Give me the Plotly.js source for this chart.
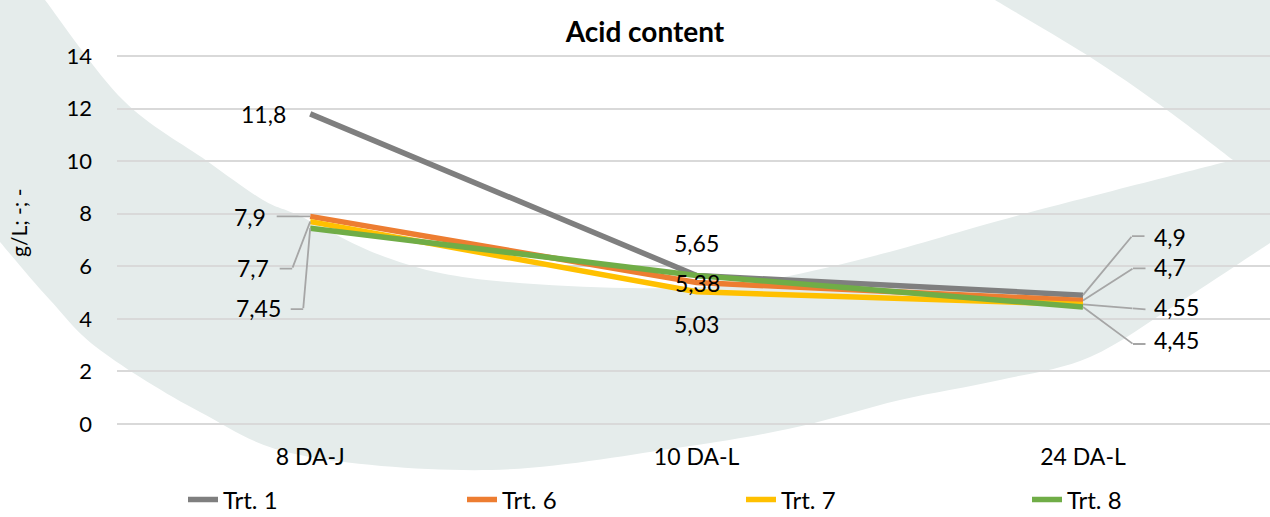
<!DOCTYPE html>
<html>
<head>
<meta charset="utf-8">
<script src="https://cdn.plot.ly/plotly-3.0.1.min.js"></script>
<style>
  html, body { margin: 0; padding: 0; background: #ffffff; overflow: hidden; }
  #wrap { position: relative; width: 1270px; height: 517px; }
  #bgsvg { position: absolute; left: 0; top: 0; }
  #chart { position: absolute; left: 0; top: 0; width: 1270px; height: 517px; }
</style>
</head>
<body>
<div id="wrap">
  <svg id="bgsvg" width="1270" height="517" viewBox="0 0 1270 517"><path id="swoosh" fill="#E5ECEB"></path></svg>
  <div id="chart"></div>
</div>
<script>
// ---------------- data ----------------
const categories = ['8 DA-J', '10 DA-L', '24 DA-L'];
const seriesNames = ['Trt. 1', 'Trt. 6', 'Trt. 7', 'Trt. 8'];
const trt1 = [11.8, 5.65, 4.9];
const trt6 = [7.9, 5.38, 4.7];
const trt7 = [7.7, 5.03, 4.55];
const trt8 = [7.45, 5.65, 4.45];
const yTickVals = [0, 2, 4, 6, 8, 10, 12, 14];
const chartTitle = 'Acid content';
const yAxisTitle = 'g/L; -; -';

// ---------------- styles ----------------
const seriesValues = [trt1, trt6, trt7, trt8];
const colors = ['#7F7F7F', '#ED7D31', '#FFC000', '#70AD47'];
const FONT = 'Lato, "Open Sans", sans-serif';
const LEADER = '#A6A6A6';

// background swoosh (decoration, pixel space)
function smooth(pts) {
  let d = '';
  for (let i = 0; i < pts.length - 1; i++) {
    const p0 = pts[Math.max(i - 1, 0)], p1 = pts[i], p2 = pts[i + 1], p3 = pts[Math.min(i + 2, pts.length - 1)];
    const c1 = [p1[0] + (p2[0] - p0[0]) / 6, p1[1] + (p2[1] - p0[1]) / 6];
    const c2 = [p2[0] - (p3[0] - p1[0]) / 6, p2[1] - (p3[1] - p1[1]) / 6];
    d += ' C' + c1[0].toFixed(1) + ',' + c1[1].toFixed(1) + ' ' + c2[0].toFixed(1) + ',' + c2[1].toFixed(1) + ' ' + p2[0] + ',' + p2[1];
  }
  return d;
}
const inner = [[45,0],[123,100],[207,161],[263,200],[300,216],[380,255],[470,278],[625,288],[747,283],[870,257],[1020,215],[1233,160]];
const tipEdge = [[1233,160],[1163,107],[1087,55],[995,0]];
const outer = [[1270,243],[1180,302],[1090,357],[1000,380],[900,400],[797,427],[683,447],[491,470],[300,455],[200,412],[100,350],[50,300],[0,242]];
document.getElementById('swoosh').setAttribute('d',
  'M0,0 L45,0' + smooth(inner) + smooth(tipEdge) + ' L1270,0 L1270,243' + smooth(outer) + ' L0,0 Z');

// ---------------- traces ----------------
const legendIds = ['legend', 'legend2', 'legend3', 'legend4'];
const traces = seriesNames.map((name, i) => ({
  type: 'scatter', mode: 'lines', name: name,
  x: categories, y: seriesValues[i],
  line: { color: colors[i], width: 5.5 },
  legend: legendIds[i],
  hoverinfo: 'skip'
}));

// label placement (pixel offsets relative to the point); leader = [elbow, end]
const labelLayout = [
  [ { t: [-23, 0], a: 'right' }, { t: [0, -32.5], a: 'center' }, { t: [70, -58], a: 'left', leader: [[49, -59], [62, -59]] } ],
  [ { t: [-43, 1], a: 'right', leader: [[0, 0], [-34, 0]] }, { t: [1, 0.5], a: 'center' }, { t: [70, -33], a: 'left', leader: [[50, -32], [63, -32]] } ],
  [ { t: [-40, 46], a: 'right', leader: [[-18, 47], [-31, 47]] }, { t: [0, 32], a: 'center' }, { t: [70, 2.5], a: 'left', leader: [[50, 4], [63, 5]] } ],
  [ { t: [-28, 80], a: 'right', leader: [[-7, 81], [-20, 81]] }, null, { t: [70, 33], a: 'left', leader: [[50, 37], [63, 37]] } ]
];

const fmt = v => String(v).replace('.', ',');
const annotations = [];
seriesValues.forEach((vals, si) => {
  vals.forEach((v, pi) => {
    const L = labelLayout[si][pi];
    if (!L) return;
    if (L.leader) {
      const e = L.leader[0], h = L.leader[1];
      if (e[0] !== 0 || e[1] !== 0) {
        annotations.push({ x: categories[pi], y: v, xref: 'x', yref: 'y', text: ' ', font: { size: 1 },
          showarrow: true, arrowhead: 0, arrowwidth: 1.8, arrowcolor: LEADER, standoff: 0,
          ax: e[0], ay: e[1], borderpad: 0 });
      }
      annotations.push({ x: categories[pi], y: v, xref: 'x', yref: 'y', text: ' ', font: { size: 1 },
        showarrow: true, arrowhead: 0, arrowwidth: 1.8, arrowcolor: LEADER, standoff: 0,
        xshift: e[0], yshift: -e[1], ax: h[0] - e[0], ay: h[1] - e[1], borderpad: 0 });
    }
    annotations.push({ x: categories[pi], y: v, xref: 'x', yref: 'y', text: fmt(v), showarrow: false,
      xanchor: L.a, yanchor: 'middle', xshift: L.t[0], yshift: -L.t[1], borderpad: 0,
      font: { family: FONT, size: 23, color: '#000000' } });
  });
});

const W = 1270, H = 517, ML = 117, MR = 0, MT = 55, MB = 92;
const PW = W - ML - MR, PH = H - MT - MB;
annotations.push({ xref: 'paper', yref: 'paper', x: (18 - ML) / PW, y: (H - MB - 223) / PH,
  text: yAxisTitle, textangle: -90, showarrow: false, xanchor: 'center', yanchor: 'middle',
  font: { family: FONT, size: 21, color: '#000000' } });

// legends (one per series, placed side by side)
const legendTextX = [225, 504, 783, 1069];
const legendY = -(500 - (H - MB)) / PH;
const layout = {
  width: W, height: H,
  margin: { l: ML, r: MR, t: MT, b: MB, pad: 0, autoexpand: false },
  paper_bgcolor: 'rgba(0,0,0,0)', plot_bgcolor: 'rgba(0,0,0,0)',
  font: { family: FONT, color: '#000000' },
  title: { text: '<b>' + chartTitle + '</b>', xref: 'container', yref: 'container', x: 645 / W, y: 1 - 32 / H,
    xanchor: 'center', yanchor: 'middle', font: { family: FONT, size: 28, color: '#000000' } },
  showlegend: true,
  xaxis: { type: 'category', categoryorder: 'array', categoryarray: categories, range: [-0.5, 2.484],
    showgrid: false, zeroline: false, showline: false, ticks: '', ticklabelstandoff: 16,
    tickfont: { family: FONT, size: 23, color: '#000000' }, fixedrange: true },
  yaxis: { range: [-0.04, 14.04], tickvals: yTickVals, showgrid: true, gridcolor: '#D9D9D9', gridwidth: 2,
    zeroline: false, showline: false, ticks: '', ticklabelstandoff: 24,
    tickfont: { family: FONT, size: 22, color: '#000000' }, fixedrange: true },
  annotations: annotations,
  hovermode: false
};
legendIds.forEach((id, i) => {
  layout[id] = { orientation: 'h', x: (legendTextX[i] - 42 - ML) / PW, y: legendY, xanchor: 'left', yanchor: 'middle',
    font: { family: FONT, size: 24, color: '#000000' }, bgcolor: 'rgba(0,0,0,0)', borderwidth: 0 };
});

Plotly.newPlot('chart', traces, layout, { displayModeBar: false, staticPlot: true });
</script>
</body>
</html>
